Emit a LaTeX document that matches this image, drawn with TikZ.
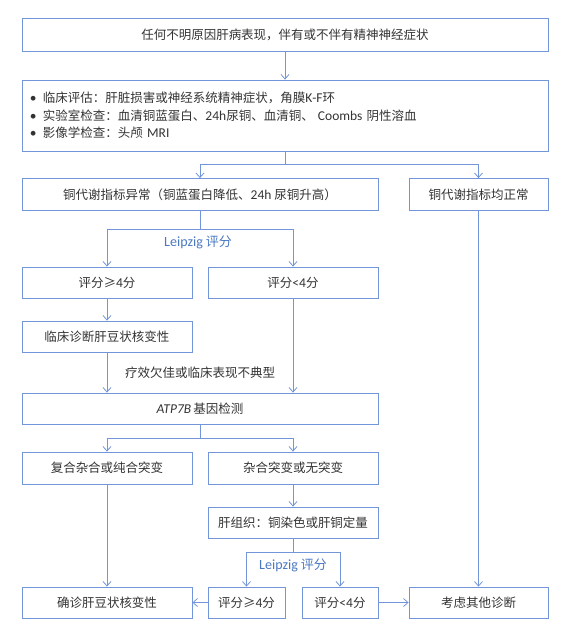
\documentclass[tikz,border=0pt]{standalone}
\usepackage{fontspec}
\setmainfont{Noto Sans CJK SC}
\newfontfamily\lat[Scale=1.08]{Carlito}
\usepackage{tikz}
\usetikzlibrary{arrows.meta, positioning, calc}
\definecolor{boxblue}{HTML}{7396DA}
\definecolor{leipblue}{HTML}{4A78C2}
\definecolor{txtgray}{HTML}{333333}
\newcommand{\en}[1]{{\lat #1}}
\newcommand{\bul}{\makebox[13pt][l]{\en{•}}}

\begin{document}
\begin{tikzpicture}[x=1pt, y=1pt, ->, >={Straight Barb[length=4.5pt, width=8pt]}, line width=0.8pt, color=boxblue,
	every node/.style={font=\fontsize{12.5}{17.5}\selectfont, text=txtgray, minimum height=32pt, inner sep=0pt},
	box/.style={draw=boxblue, rectangle},
	score/.style={text=leipblue, minimum height=0pt, font=\fontsize{13}{15}\selectfont}]

	\useasboundingbox (0,0) rectangle (570,-641);

	\node [box, minimum width=526pt, minimum height=33pt] (n1) at (285,-34.5) {任何不明原因肝病表现，伴有或不伴有精神神经症状};
	\node [box, minimum width=526pt, minimum height=71pt, text width=510pt, inner xsep=8pt, align=left] (n2) [below of = n1, node distance=81pt]
	{\bul 临床评估：肝脏损害或神经系统精神症状，角膜\en{K-F}环 \\
	 \bul 实验室检查：血清铜蓝蛋白、\en{24h}尿铜、血清铜、 \en{Coombs} 阴性溶血 \\
	 \bul 影像学检查：头颅 \en{MRI}};

	\node [box, minimum width=356pt] (n3) at (200,-194.5) {铜代谢指标异常（铜蓝蛋白降低、\en{24h} 尿铜升高）};
	\node [box, minimum width=139pt] (n4) [right of = n3, node distance=278.5pt] {铜代谢指标均正常};

	\node [box, minimum width=170pt, minimum height=31pt] (n5) at (107,-282.5) {评分≥\en{4}分};
	\node [box, minimum width=170pt, minimum height=31pt] (n6) [right of = n5, node distance=186pt] {评分\en{<4}分};
	\node [box, minimum width=170pt, minimum height=31pt] (n7) [below of = n5, node distance=54pt] {临床诊断肝豆状核变性};

	\node [box, minimum width=356pt, minimum height=31pt] (n8) at (200,-408.5) {\en{\itshape ATP7B}\,基因检测};

	\node [box, minimum width=170pt] (n9) at (107,-468) {复合杂合或纯合突变};
	\node [box, minimum width=170pt] (n10) [right of = n9, node distance=186pt] {杂合突变或无突变};
	\node [box, minimum width=170pt, minimum height=31pt] (n11) [below of = n10, node distance=54.5pt] {肝组织：铜染色或肝铜定量};

	\node [box, minimum width=170pt, minimum height=31pt] (n12) [below of = n9, node distance=134.5pt] {确诊肝豆状核变性};
	\node [box, minimum width=77pt, minimum height=31pt] (n13) at (246.5,-602.5) {评分≥\en{4}分};
	\node [box, minimum width=76pt, minimum height=31pt] (n14) [right of = n13, node distance=93.5pt] {评分\en{<4}分};
	\node [box, minimum width=139pt, minimum height=31pt] (n15) [below of = n4, node distance=408pt] {考虑其他诊断};

	% labels on the branches
	\node [score] (lp1) at (198,-242) {\en{Leipzig} 评分};
	\node [minimum height=0pt] (note) at (200,-373) {疗效欠佳或临床表现不典型};
	\node [score] (lp2) at (293,-565) {\en{Leipzig} 评分};

	\coordinate (s1) at (285,-164);
	\coordinate (s2) at (200,-229);
	\coordinate (s3) at (200,-438);
	\coordinate (s4) at (293,-552);

	\draw (n1) -- (n2);
	\draw [-] (n2) -- (s1);
	\draw (s1) -| (n3);
	\draw (s1) -| (n4);

	\draw [-] (n3) -- (s2);
	\draw (s2) -| (n5);
	\draw (s2) -| (n6);
	\draw (n5) -- (n7);
	\draw (n7) -- (n7 |- n8.north);
	\draw (n6) -- (n6 |- n8.north);

	\draw [-] (n8) -- (s3);
	\draw (s3) -| (n9);
	\draw (s3) -| (n10);
	\draw (n10) -- (n11);
	\draw (n9) -- (n12);

	\draw [-] (n11) -- (s4);
	\draw (s4) -| (n13);
	\draw (s4) -| (n14);
	\draw (n13) -- (n12);
	\draw (n14) -- (n15);
	\draw (n4) -- (n15);

\end{tikzpicture}
\end{document}
